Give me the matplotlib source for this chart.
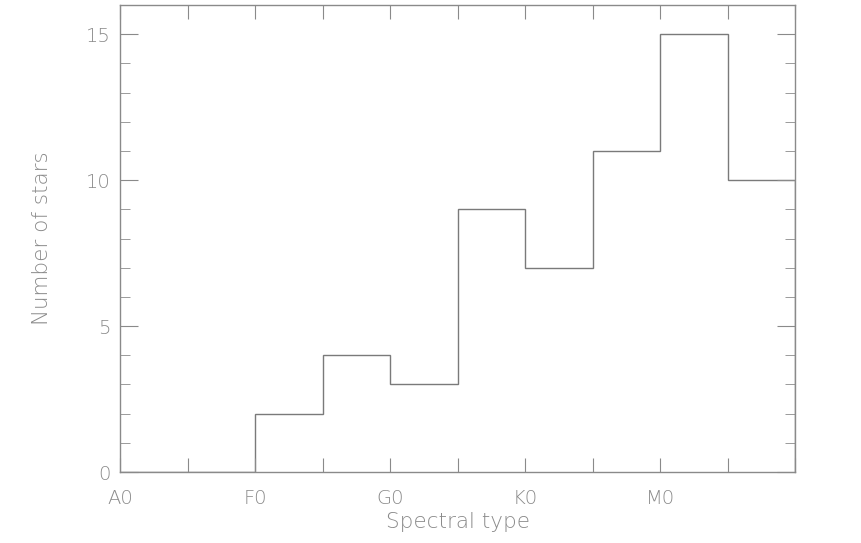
import numpy as np
import matplotlib.pyplot as plt

# histogram of spectral types (one bin per subclass step)
bin_edges = [0, 1, 2, 3, 4, 5, 6, 7, 8, 9, 10]
counts = [0, 0, 2, 4, 3, 9, 7, 11, 15, 10]
tick_pos = [0, 2, 4, 6, 8]
tick_labels = ['A0', 'F0', 'G0', 'K0', 'M0']

grey = '#8a8a8a'
plt.rcParams['font.family'] = ['DejaVu Sans']
plt.rcParams['font.weight'] = 200
plt.rcParams['axes.labelweight'] = 200

fig = plt.figure(figsize=(8.61, 5.43), dpi=100)
ax = fig.add_axes([120 / 861, 71 / 543, 675 / 861, 467 / 543])

ax.stairs(counts, bin_edges, color='#7a7a7a', linewidth=1.0)

ax.set_xlim(0, 10)
ax.set_ylim(0, 16)

# x ticks every bin, labels every two
ax.set_xticks(np.arange(0, 11, 1))
ax.set_xticklabels([tick_labels[tick_pos.index(i)] if i in tick_pos else '' for i in range(11)])
ax.tick_params(axis='x', which='major', direction='in', length=10, top=True,
               color=grey, labelcolor=grey, labelsize=14, pad=12)

ax.set_yticks([0, 5, 10, 15])
ax.set_yticks(np.arange(0, 17, 1), minor=True)
ax.tick_params(axis='y', which='major', direction='in', length=13, right=True,
               color=grey, labelcolor=grey, labelsize=14, pad=7)
ax.tick_params(axis='y', which='minor', direction='in', length=7, right=True, color=grey)

for s in ax.spines.values():
    s.set_color(grey)
    s.set_linewidth(1.0)

ax.set_xlabel('Spectral type', color=grey, fontsize=15.5, labelpad=3)
ax.set_ylabel('Number of stars', color=grey, fontsize=15.5, labelpad=24)

plt.savefig('out.png', dpi=100)
